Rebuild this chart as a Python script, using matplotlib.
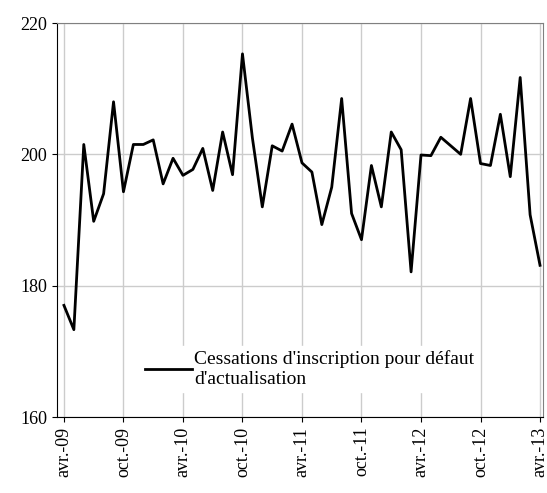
import matplotlib
matplotlib.use("Agg")
import matplotlib.pyplot as plt

plt.rcParams['font.family'] = ['Liberation Serif', 'DejaVu Serif']

values = [177, 173.3, 201.5, 189.8, 194, 208, 194.3, 201.5, 201.5, 202.2, 195.5, 199.4,
          196.8, 197.7, 200.9, 194.5, 203.4, 196.9, 215.3, 202.5, 192, 201.3, 200.5, 204.6,
          198.7, 197.3, 189.3, 195, 208.5, 191, 187, 198.3, 192, 203.4, 200.7, 182.1,
          199.9, 199.8, 202.6, 201.3, 200, 208.5, 198.6, 198.3, 206.1, 196.6, 211.7, 190.8, 183.1]
tick_labels = ["avr.-09", "oct.-09", "avr.-10", "oct.-10", "avr.-11", "oct.-11", "avr.-12", "oct.-12", "avr.-13"]
label = "Cessations d'inscription pour défaut\nd'actualisation"

fig = plt.figure(figsize=(5.47, 4.93), dpi=100)
ax = fig.add_axes([57/547, 1-417/493, (543-57)/547, (417-23)/493])
x = list(range(len(values)))
ax.plot(x, values, color='black', lw=2, label=label)
ax.set_xlim(-0.7, 48.3)
ax.set_ylim(160, 220)
ax.set_yticks([160, 180, 200, 220])
ax.set_xticks(list(range(0, 49, 6)))
ax.set_xticklabels(tick_labels, rotation=90, fontsize=13)
ax.tick_params(axis='y', labelsize=13)
ax.grid(True, color='#cccccc', lw=1)
ax.set_axisbelow(True)
for s in ax.spines.values():
    s.set_color('#808080')
ax.spines['left'].set_color('black')
ax.spines['bottom'].set_color('black')
leg = ax.legend(loc='lower center', bbox_to_anchor=(0.52, 0.04), frameon=True, fontsize=14,
                handlelength=2.4, handletextpad=0.1, borderpad=0.2, labelspacing=0.2,
                fancybox=False)
leg.get_frame().set_edgecolor('white')
leg.get_frame().set_facecolor('white')
leg.get_frame().set_alpha(1)
fig.savefig("out.png")
